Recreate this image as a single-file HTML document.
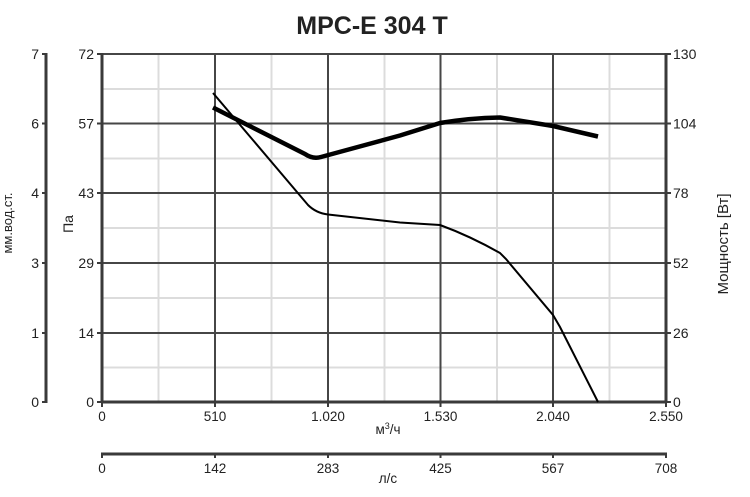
<!DOCTYPE html>
<html>
<head>
<meta charset="utf-8">
<style>
html,body{margin:0;padding:0;background:#fff;}
svg{display:block;}
text{font-family:"Liberation Sans",sans-serif;fill:#222;}
</style>
</head>
<body>
<svg width="750" height="497" viewBox="0 0 750 497" xmlns="http://www.w3.org/2000/svg">
<rect width="750" height="497" fill="#fff"/>
<!-- Title -->
<text x="372" y="34" font-size="25" font-weight="bold" text-anchor="middle" fill="#111">MPC-E 304 T</text>

<!-- minor grid -->
<g stroke="#dcdcdc" stroke-width="2">
<line x1="158.5" y1="54" x2="158.5" y2="402"/>
<line x1="271.5" y1="54" x2="271.5" y2="402"/>
<line x1="384.5" y1="54" x2="384.5" y2="402"/>
<line x1="497" y1="54" x2="497" y2="402"/>
<line x1="609.5" y1="54" x2="609.5" y2="402"/>
<line x1="102" y1="89" x2="666" y2="89"/>
<line x1="102" y1="158.5" x2="666" y2="158.5"/>
<line x1="102" y1="228" x2="666" y2="228"/>
<line x1="102" y1="298" x2="666" y2="298"/>
<line x1="102" y1="367.5" x2="666" y2="367.5"/>
</g>
<!-- major grid -->
<g stroke="#464646" stroke-width="2">
<line x1="215" y1="54" x2="215" y2="402"/>
<line x1="328" y1="54" x2="328" y2="402"/>
<line x1="440.5" y1="54" x2="440.5" y2="402"/>
<line x1="553" y1="54" x2="553" y2="402"/>
<line x1="102" y1="54" x2="666" y2="54"/>
<line x1="102" y1="123.5" x2="666" y2="123.5"/>
<line x1="102" y1="193" x2="666" y2="193"/>
<line x1="102" y1="263" x2="666" y2="263"/>
<line x1="102" y1="333" x2="666" y2="333"/>
</g>
<!-- frame axes -->
<g stroke="#3a3a3a" stroke-width="3">
<line x1="102" y1="53" x2="102" y2="403"/>
<line x1="666" y1="53" x2="666" y2="403"/>
<line x1="101" y1="402" x2="667" y2="402"/>
</g>
<!-- ticks left Pa -->
<g stroke="#3a3a3a" stroke-width="2">
<line x1="97" y1="54" x2="102" y2="54"/>
<line x1="97" y1="123.5" x2="102" y2="123.5"/>
<line x1="97" y1="193" x2="102" y2="193"/>
<line x1="97" y1="263" x2="102" y2="263"/>
<line x1="97" y1="333" x2="102" y2="333"/>
<line x1="97" y1="402" x2="102" y2="402"/>
<!-- right ticks -->
<line x1="666" y1="54" x2="671" y2="54"/>
<line x1="666" y1="123.5" x2="671" y2="123.5"/>
<line x1="666" y1="193" x2="671" y2="193"/>
<line x1="666" y1="263" x2="671" y2="263"/>
<line x1="666" y1="333" x2="671" y2="333"/>
<line x1="666" y1="402" x2="671" y2="402"/>
<!-- bottom ticks -->
<line x1="102" y1="402" x2="102" y2="407"/>
<line x1="215" y1="402" x2="215" y2="407"/>
<line x1="328" y1="402" x2="328" y2="407"/>
<line x1="440.5" y1="402" x2="440.5" y2="407"/>
<line x1="553" y1="402" x2="553" y2="407"/>
<line x1="666" y1="402" x2="666" y2="407"/>
<!-- mm axis ticks -->
<line x1="42" y1="54" x2="46" y2="54"/>
<line x1="42" y1="123.5" x2="46" y2="123.5"/>
<line x1="42" y1="193" x2="46" y2="193"/>
<line x1="42" y1="263" x2="46" y2="263"/>
<line x1="42" y1="333" x2="46" y2="333"/>
<line x1="42" y1="402" x2="46" y2="402"/>
<!-- l/s ticks -->
<line x1="102" y1="454" x2="102" y2="458"/>
<line x1="215" y1="454" x2="215" y2="458"/>
<line x1="328" y1="454" x2="328" y2="458"/>
<line x1="440.5" y1="454" x2="440.5" y2="458"/>
<line x1="553" y1="454" x2="553" y2="458"/>
<line x1="666" y1="454" x2="666" y2="458"/>
</g>
<!-- mm axis line -->
<line x1="46" y1="53" x2="46" y2="403" stroke="#3a3a3a" stroke-width="3"/>
<!-- l/s axis line -->
<line x1="101" y1="454" x2="667" y2="454" stroke="#3a3a3a" stroke-width="3"/>

<!-- left mm labels -->
<g font-size="14" text-anchor="end">
<text x="39" y="59">7</text>
<text x="39" y="128.5">6</text>
<text x="39" y="198">4</text>
<text x="39" y="268">3</text>
<text x="39" y="338">1</text>
<text x="39" y="407">0</text>
</g>
<!-- left Pa labels -->
<g font-size="14" text-anchor="end">
<text x="94" y="59">72</text>
<text x="94" y="128.5">57</text>
<text x="94" y="198">43</text>
<text x="94" y="268">29</text>
<text x="94" y="338">14</text>
<text x="94" y="407">0</text>
</g>
<!-- right labels -->
<g font-size="14" text-anchor="start">
<text x="673" y="59">130</text>
<text x="673" y="128.5">104</text>
<text x="673" y="198">78</text>
<text x="673" y="268">52</text>
<text x="673" y="338">26</text>
<text x="673" y="407">0</text>
</g>
<!-- bottom m3/h labels -->
<g font-size="13.5" text-anchor="middle">
<text x="102" y="421">0</text>
<text x="215" y="421">510</text>
<text x="328" y="421">1.020</text>
<text x="440.5" y="421">1.530</text>
<text x="553" y="421">2.040</text>
<text x="666" y="421">2.550</text>
</g>
<text x="388" y="434" font-size="13.5" text-anchor="middle">м<tspan font-size="9" dy="-5">3</tspan><tspan dy="5">/ч</tspan></text>
<!-- bottom l/s labels -->
<g font-size="13.5" text-anchor="middle">
<text x="102" y="473">0</text>
<text x="215" y="473">142</text>
<text x="328" y="473">283</text>
<text x="440.5" y="473">425</text>
<text x="553" y="473">567</text>
<text x="666" y="473">708</text>
</g>
<text x="388" y="483" font-size="13.5" text-anchor="middle">л/с</text>

<!-- axis titles -->
<text transform="translate(12,223) rotate(-90)" font-size="13" text-anchor="middle">мм.вод.ст.</text>
<text transform="translate(73,224) rotate(-90)" font-size="14" text-anchor="middle">Па</text>
<text transform="translate(728,244) rotate(-90)" font-size="15" text-anchor="middle">Мощность [Вт]</text>

<!-- curves -->
<path d="M213,93 L308,205 Q316,213 328,214.5 L400,222.5 L440,225 Q470,236 500,253 L506,259 L553,315 L560,327 L598,402" fill="none" stroke="#000" stroke-width="2"/>
<path d="M213,107.5 L305,154 Q313,159.5 321,157 L400,135.5 L440,123 Q470,118 500,117.5 L553,126 L598,136.5" fill="none" stroke="#000" stroke-width="4.5" stroke-linejoin="round"/>
</svg>
</body>
</html>
